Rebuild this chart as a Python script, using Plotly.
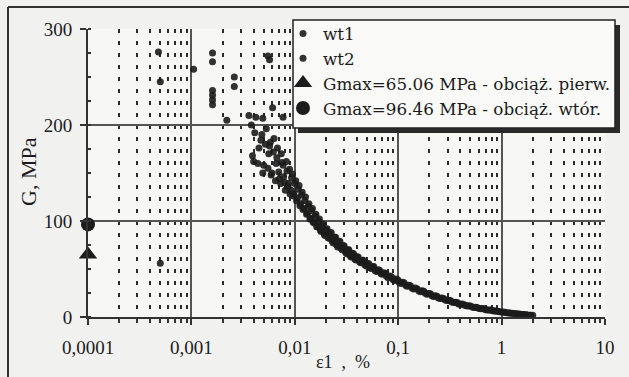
import plotly.graph_objects as go

# ---------------- data ----------------
wt1_x = [0.00048, 0.00050, 0.00105, 0.0016, 0.0016, 0.0026, 0.0055, 0.0022, 0.00050,
         0.0038, 0.0040, 0.0042, 0.0045, 0.0048, 0.0050, 0.0053, 0.0056, 0.0058, 0.0060,
         0.0063, 0.0066, 0.0068, 0.0071, 0.0074, 0.0077, 0.0080, 0.0083, 0.0086, 0.0089,
         0.0092, 0.0095, 0.0098, 0.0102, 0.0106, 0.0110, 0.0114, 0.0118, 0.0122, 0.0127,
         0.0132, 0.0137, 0.0142, 0.0148, 0.0154, 0.0160, 0.0166, 0.0173, 0.0180, 0.0188,
         0.0196, 0.0205, 0.0215, 0.0225, 0.0236, 0.0248, 0.0260, 0.0273, 0.0287, 0.0300,
         0.0316, 0.0333, 0.0350, 0.0370, 0.0390, 0.0410, 0.0435, 0.0460, 0.0490, 0.0520,
         0.0550, 0.0580, 0.0620, 0.0660, 0.0700, 0.0750, 0.0800, 0.0860, 0.0920, 0.0990,
         0.106, 0.114, 0.122, 0.131, 0.141, 0.152, 0.164, 0.177, 0.190, 0.205,
         0.220, 0.237, 0.255, 0.275, 0.296, 0.320, 0.345, 0.372, 0.400, 0.430,
         0.465, 0.500, 0.540, 0.580, 0.630, 0.680, 0.730, 0.790, 0.850, 0.920,
         1.00, 1.08, 1.17, 1.26, 1.36, 1.47, 1.60, 1.73, 1.87, 2.00]
wt1_y = [276, 245, 258, 275, 266, 250, 272, 205, 56,
         200, 162, 208, 176, 190, 158, 196, 170, 182, 150,
         186, 160, 176, 144, 170, 158, 140, 162, 136, 154,
         132, 149, 128, 142, 124, 137, 118, 130, 113, 125,
         108, 118, 103, 113, 98, 107, 94, 102, 89, 97,
         85, 92, 82, 88, 77, 83, 73, 79, 70, 74,
         66, 70, 62.5, 66, 59.5, 62.5, 56.5, 59, 53, 55.5,
         50.5, 52.5, 47.5, 48.8, 44.5, 45.5, 41, 42, 38, 38.8,
         35, 35.7, 32, 32.6, 29.2, 29.5, 26.2, 26.7, 23.8, 24.1,
         21.4, 21.7, 19.2, 19.4, 17.1, 17.1, 15, 15, 13.2, 13.1,
         11.5, 11.5, 10, 9.9, 8.6, 8.5, 7.3, 7.2, 6.2, 6.1,
         5.1, 5.0, 4.2, 4.0, 3.4, 3.2, 2.6, 2.4, 1.9, 1.7]

wt2_x = [0.0016, 0.0016, 0.0016, 0.0016, 0.0026, 0.0057, 0.0036, 0.0049, 0.0061, 0.0077,
         0.0039, 0.0041, 0.0044, 0.0047, 0.0049, 0.0052, 0.0055, 0.0057, 0.0059, 0.0062,
         0.0065, 0.0067, 0.0070, 0.0073, 0.0075, 0.0078, 0.0081, 0.0084, 0.0087, 0.0090,
         0.0093, 0.0097, 0.0100, 0.0104, 0.0108, 0.0112, 0.0116, 0.0120, 0.0125, 0.0130,
         0.0135, 0.0140, 0.0145, 0.0150, 0.0157, 0.0163, 0.0170, 0.0177, 0.0185, 0.0193,
         0.0201, 0.0210, 0.0220, 0.0230, 0.0242, 0.0254, 0.0267, 0.0280, 0.0295, 0.0310,
         0.0326, 0.0342, 0.0360, 0.0380, 0.0400, 0.0425, 0.0450, 0.0475, 0.0500, 0.0535,
         0.0570, 0.0600, 0.0640, 0.0680, 0.0720, 0.0770, 0.0830, 0.0890, 0.0950, 0.102,
         0.110, 0.118, 0.127, 0.136, 0.146, 0.158, 0.170, 0.183, 0.197, 0.212,
         0.228, 0.245, 0.264, 0.285, 0.307, 0.330, 0.356, 0.383, 0.413, 0.445,
         0.480, 0.520, 0.560, 0.605, 0.650, 0.700, 0.760, 0.820, 0.880, 0.950,
         1.03, 1.11, 1.20, 1.30, 1.40, 1.52, 1.65, 1.78, 1.92]
wt2_y = [236, 231, 226, 221, 240, 268, 210, 207, 218, 208,
         168, 192, 160, 184, 150, 180, 155, 178, 148, 172,
         142, 166, 151, 139, 161, 146, 132, 152, 139, 128,
         145, 126, 139, 121, 133, 116, 127, 112, 121, 107,
         115, 102, 111, 99, 105, 94, 100, 90, 95, 86,
         91, 82.5, 87, 79, 83, 75, 78.5, 71.5, 74.5, 67.5,
         70, 64, 66.5, 60.5, 62.8, 57.3, 59.2, 54.5, 56, 51.2,
         52.4, 48.3, 49.3, 45.3, 46.2, 42.4, 42.6, 39, 39.5, 36.1,
         36.2, 33, 33.1, 30.2, 30.2, 27.3, 27.3, 24.7, 24.6, 22.2,
         22.1, 19.9, 19.8, 17.7, 17.5, 15.6, 15.4, 13.6, 13.5, 11.9,
         11.7, 10.3, 10.2, 8.9, 8.8, 7.6, 7.4, 6.4, 6.3, 5.4,
         5.2, 4.4, 4.2, 3.6, 3.4, 2.8, 2.6, 2.0, 1.8]

gmax_strain = [0.0001]
gmax_first = [65.06]
gmax_second = [96.46]

x_tickvals = [0.0001, 0.001, 0.01, 0.1, 1, 10]
x_ticktext = ["0,0001", "0,001", "0,01", "0,1", "1", "10"]
y_tickvals = [0, 100, 200, 300]

names = ["wt1", "wt2", "Gmax=65.06 MPa - obciąż. pierw.", "Gmax=96.46 MPa - obciąż. wtór."]

# ---------------- figure ----------------
FONT = "Liberation Serif"
LEG_FONT = "DejaVu Serif"
INK = "#1c1c1c"

fig = go.Figure()
fig.add_trace(go.Scatter(x=wt1_x, y=wt1_y, mode="markers", name=names[0],
                         marker=dict(symbol="circle", size=7, color=INK, opacity=0.9),
                         cliponaxis=False))
fig.add_trace(go.Scatter(x=wt2_x, y=wt2_y, mode="markers", name=names[1],
                         marker=dict(symbol="circle", size=7, color=INK, opacity=0.9),
                         cliponaxis=False))
fig.add_trace(go.Scatter(x=gmax_strain, y=gmax_first, mode="markers", name=names[2],
                         marker=dict(symbol="triangle-up", size=16, color=INK),
                         cliponaxis=False))
fig.add_trace(go.Scatter(x=gmax_strain, y=gmax_second, mode="markers", name=names[3],
                         marker=dict(symbol="circle", size=14, color=INK),
                         cliponaxis=False))

minor_vals = [m * 10 ** e for e in range(-4, 1) for m in range(2, 10)]

fig.update_xaxes(
    type="log", range=[-4, 1],
    tickmode="array", tickvals=x_tickvals, ticktext=x_ticktext,
    showgrid=True, gridcolor="#555555", gridwidth=1.5,
    showline=True, linecolor="#333333", linewidth=2,
    ticks="outside", ticklen=6, tickcolor="#333333", tickwidth=1.5,
    ticklabelstandoff=6,
    minor=dict(tickmode="array", tickvals=minor_vals, ticks="outside", ticklen=4,
               tickcolor="#333333", showgrid=True, gridcolor="#2a2a2a",
               gridwidth=1.8, griddash="4px,8px"),
    tickfont=dict(family=FONT, size=19, color=INK),
    zeroline=False,
)
fig.update_yaxes(
    range=[0, 300], tickmode="array", tickvals=y_tickvals,
    showgrid=True, gridcolor="#555555", gridwidth=1.5,
    showline=True, linecolor="#333333", linewidth=2,
    ticks="outside", ticklen=6, tickcolor="#333333", tickwidth=1.5,
    ticklabelstandoff=4,
    minor=dict(dtick=25, ticks="inside", ticklen=3, tickcolor="#333333", showgrid=False),
    tickfont=dict(family=FONT, size=19, color=INK),
    zeroline=False,
)

W, H = 629, 377
L, R, T, B = 88, 24, 29, 60
pw, ph = W - L - R, H - T - B


def px(xp):
    return (xp - L) / pw


def py(yp):
    return (H - B - yp) / ph


fig.update_layout(
    width=W, height=H,
    margin=dict(l=L, r=R, t=T, b=B, pad=0),
    paper_bgcolor="#f1f1ef", plot_bgcolor="#f7f7f5",
    font=dict(family=FONT, size=18, color=INK),
    showlegend=True,
    legend=dict(x=px(283), y=py(16), xanchor="left", yanchor="top",
                bgcolor="rgba(0,0,0,0)", borderwidth=0,
                font=dict(family=LEG_FONT, size=16.8, color=INK),
                tracegroupgap=0, itemwidth=30),
    shapes=[
        # legend shadow
        dict(type="rect", xref="paper", yref="paper",
             x0=px(298), x1=px(620), y0=py(133), y1=py(25),
             fillcolor="#2a2a2a", line=dict(width=0), layer="above"),
        # legend box
        dict(type="rect", xref="paper", yref="paper",
             x0=px(293), x1=px(615), y0=py(128), y1=py(20),
             fillcolor="#f9f9f7", line=dict(color="#222222", width=1.5), layer="above"),
        # outer frame (left and top)
        dict(type="line", xref="paper", yref="paper",
             x0=px(8), x1=px(8), y0=py(7), y1=py(400),
             line=dict(color="#333333", width=2)),
        dict(type="line", xref="paper", yref="paper",
             x0=px(8), x1=px(640), y0=py(7), y1=py(7),
             line=dict(color="#333333", width=2)),
    ],
    annotations=[
        dict(text="G, MPa", xref="paper", yref="paper", x=px(28), y=py(172),
             textangle=-90, showarrow=False, xanchor="center", yanchor="middle",
             font=dict(family=FONT, size=22, color=INK)),
        dict(text="ε1\u00a0\u00a0,\u00a0\u00a0%", xref="paper", yref="paper", x=px(343), y=py(362),
             showarrow=False, xanchor="center", yanchor="middle",
             font=dict(family=FONT, size=18, color=INK)),
    ],
)

fig.write_html("out.html")
